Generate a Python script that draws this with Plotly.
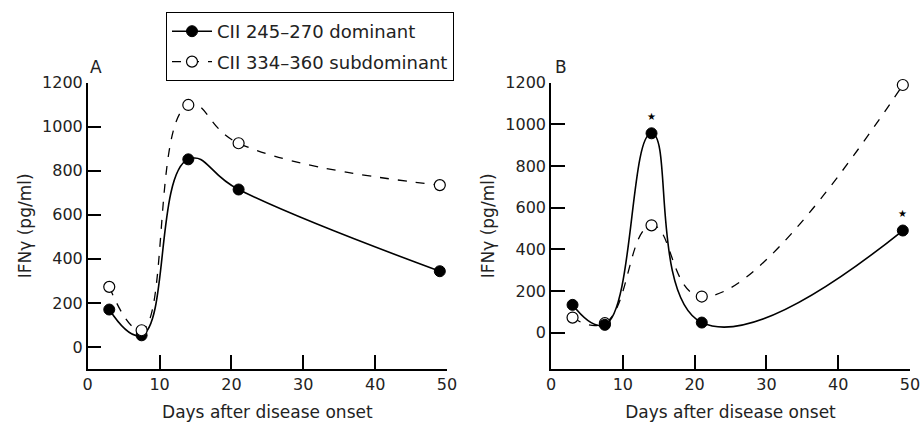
import plotly.graph_objects as go

days = [3, 7.5, 14, 21, 49]
a_dominant = [170, 53, 852, 715, 344]
a_subdominant = [273, 76, 1099, 925, 735]
b_dominant = [133, 37, 957, 48, 490]
b_subdominant = [72, 45, 515, 173, 1189]
star_days = [14, 49]
star_y = [1040, 573]
y_ticks = [0, 200, 400, 600, 800, 1000, 1200]
x_ticks = [0, 10, 20, 30, 40, 50]
name_dom = "CII 245–270 dominant"
name_sub = "CII 334–360 subdominant"

FONT = "DejaVu Sans"
W, H = 921, 424

def dom_trace(x, y, xa, ya, show):
    return go.Scatter(x=x, y=y, xaxis=xa, yaxis=ya, name=name_dom, showlegend=show, legendgroup="dom",
                      mode="lines+markers", line=dict(color="black", width=1.6, shape="spline", smoothing=1.3),
                      marker=dict(symbol="circle", size=11, color="black", line=dict(color="black", width=1)),
                      cliponaxis=False)

def sub_trace(x, y, xa, ya, show):
    return go.Scatter(x=x, y=y, xaxis=xa, yaxis=ya, name=name_sub, showlegend=show, legendgroup="sub",
                      mode="lines+markers", line=dict(color="black", width=1.3, shape="spline", smoothing=1.3, dash="dash"),
                      marker=dict(symbol="circle", size=11, color="white", line=dict(color="black", width=1.2)),
                      cliponaxis=False)

fig = go.Figure()
fig.add_trace(dom_trace(days, a_dominant, "x", "y", True))
fig.add_trace(sub_trace(days, a_subdominant, "x", "y", True))
fig.add_trace(sub_trace(days, b_subdominant, "x2", "y2", False))
fig.add_trace(dom_trace(days, b_dominant, "x2", "y2", False))

ydom = [1 - 369 / H, 1 - 82.7 / H]
axis_common = dict(showline=True, linecolor="black", linewidth=1.5, ticks="inside", ticklen=14,
                   tickwidth=1.5, tickcolor="black", showgrid=False, zeroline=False,
                   tickfont=dict(family=FONT, size=16, color="#222"), automargin=False)

title_font = dict(family=FONT, size=17, color="#222")

fig.update_layout(
    width=W, height=H, margin=dict(l=0, r=0, t=0, b=0),
    paper_bgcolor="white", plot_bgcolor="white",
    font=dict(family=FONT, color="#222"),
    xaxis=dict(domain=[87.7 / W, 447 / W], range=[0, 50], tickvals=x_ticks, anchor="y",
               title=dict(text="Days after disease onset", font=title_font, standoff=13),
               **axis_common),
    yaxis=dict(domain=ydom, range=[-100, 1200], tickvals=y_ticks, anchor="x",
               title=dict(text="IFNγ (pg/ml)", font=title_font, standoff=6),
               **axis_common),
    xaxis2=dict(domain=[551 / W, 910 / W], range=[0, 50], tickvals=x_ticks, anchor="y2",
                title=dict(text="Days after disease onset", font=title_font, standoff=13),
                **axis_common),
    yaxis2=dict(domain=ydom, range=[-175, 1200], tickvals=y_ticks, anchor="x2",
                title=dict(text="IFNγ (pg/ml)", font=title_font, standoff=6),
                **axis_common),
    legend=dict(x=166 / W, y=1 - 12 / H, xanchor="left", yanchor="top",
                bordercolor="black", borderwidth=1, bgcolor="white",
                font=dict(family=FONT, size=18, color="#222"), itemwidth=40, tracegroupgap=4,
                traceorder="grouped"),
    showlegend=True,
)

for sx, sy in zip(star_days, star_y):
    fig.add_annotation(x=sx, y=sy, xref="x2", yref="y2", text="★", showarrow=False,
                       font=dict(size=10, color="black"))

fig.add_annotation(x=87.7 / W, y=1 - 67 / H, xref="paper", yref="paper", text="A", showarrow=False,
                   xanchor="left", yanchor="middle", font=dict(family=FONT, size=17, color="#222"))
fig.add_annotation(x=553 / W, y=1 - 67 / H, xref="paper", yref="paper", text="B", showarrow=False,
                   xanchor="left", yanchor="middle", font=dict(family=FONT, size=17, color="#222"))

fig.write_html("out.html", config={"displayModeBar": False},
               post_script="document.body.style.margin='0';document.body.style.padding='0';")
